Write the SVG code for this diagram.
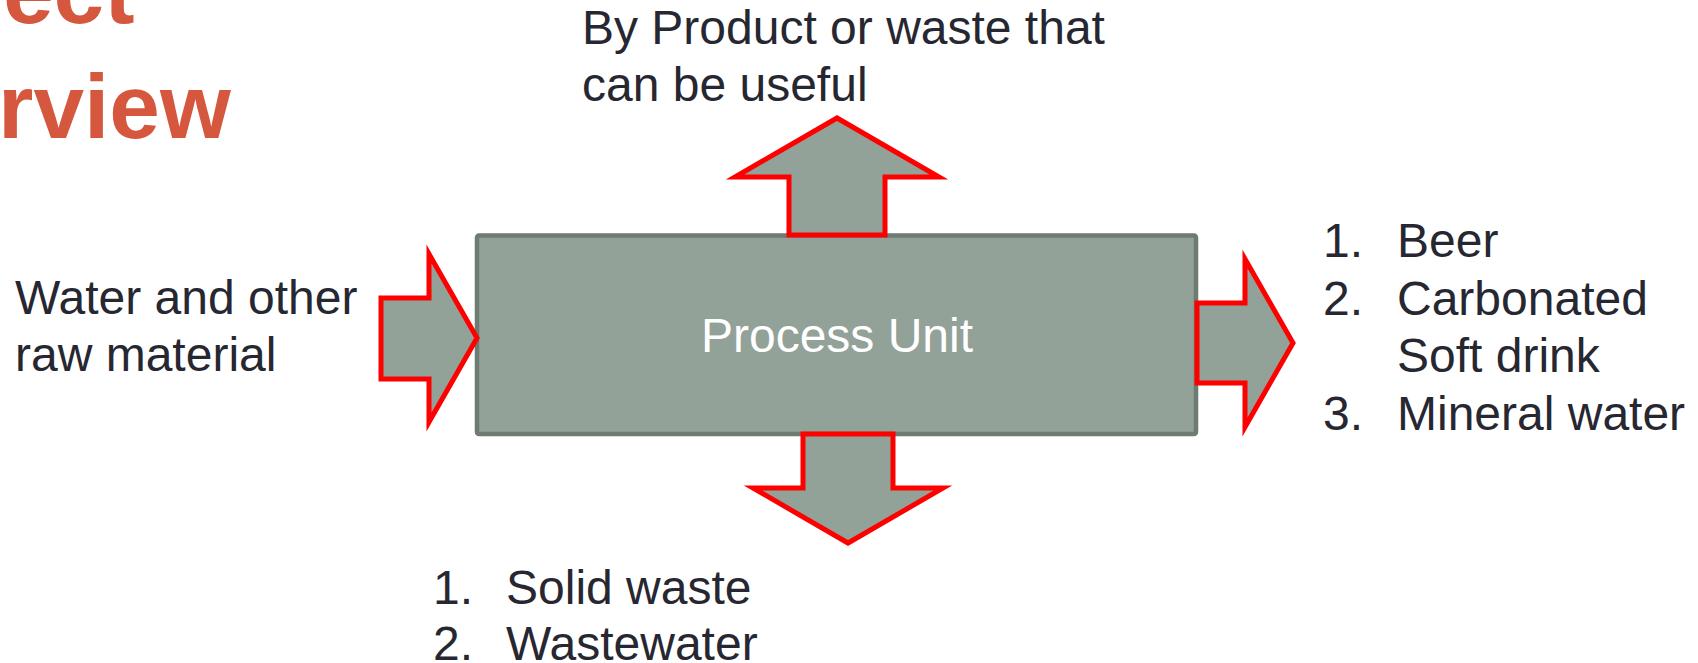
<svg xmlns="http://www.w3.org/2000/svg" width="1698" height="663" viewBox="0 0 1698 663">
<style>
.t{font-family:"Liberation Sans",Arial,sans-serif;font-size:48px;fill:#272731}
.title{font-family:"Liberation Sans",Arial,sans-serif;font-size:91px;font-weight:bold;fill:#d4573e}
.arrow{fill:#93a298;stroke:#ff0000;stroke-width:5;stroke-linejoin:miter}
.box{fill:#93a298;stroke:#6e7b71;stroke-width:4.5}
.pu{font-family:"Liberation Sans",Arial,sans-serif;font-size:48px;fill:#ffffff}
</style>
<rect width="1698" height="663" fill="#ffffff"/>
<g id="title">
<text class="title" x="-174" y="23">Project</text>
<text class="title" x="-174" y="138">Overview</text>
</g>
<g id="process-unit">
<rect class="box" x="477" y="235.5" width="719" height="198.5" rx="2"/>
<text class="pu" x="837" y="352" text-anchor="middle">Process Unit</text>
</g>
<g id="connectors">
<polygon id="arrow-in" class="arrow" points="381,298 429,298 429,254 477,338 429,422 429,379 381,379"/>
<polygon id="arrow-out" class="arrow" points="1197,303 1245,303 1245,259 1293,343 1245,427 1245,383 1197,383"/>
<polygon id="arrow-up" class="arrow" points="789,235 789,177 735,177 837,118 939,177 885,177 885,235"/>
<polygon id="arrow-down" class="arrow" points="803,434 893,434 893,488 943,488 848,543 753,488 803,488"/>
</g>
<g id="input">
<text class="t" x="15" y="314">Water and other</text>
<text class="t" x="15" y="371">raw material</text>
</g>
<g id="byproduct">
<text class="t" x="582" y="44">By Product or waste that</text>
<text class="t" x="582" y="101">can be useful</text>
</g>
<g id="products">
<text class="t" x="1323" y="257">1.</text>
<text class="t" x="1397" y="257">Beer</text>
<text class="t" x="1323" y="315">2.</text>
<text class="t" x="1397" y="315">Carbonated</text>
<text class="t" x="1397" y="372">Soft drink</text>
<text class="t" x="1323" y="430">3.</text>
<text class="t" x="1397" y="430">Mineral water</text>
</g>
<g id="waste">
<text class="t" x="433" y="604">1.</text>
<text class="t" x="506" y="604">Solid waste</text>
<text class="t" x="433" y="660">2.</text>
<text class="t" x="506" y="660">Wastewater</text>
</g>
</svg>
